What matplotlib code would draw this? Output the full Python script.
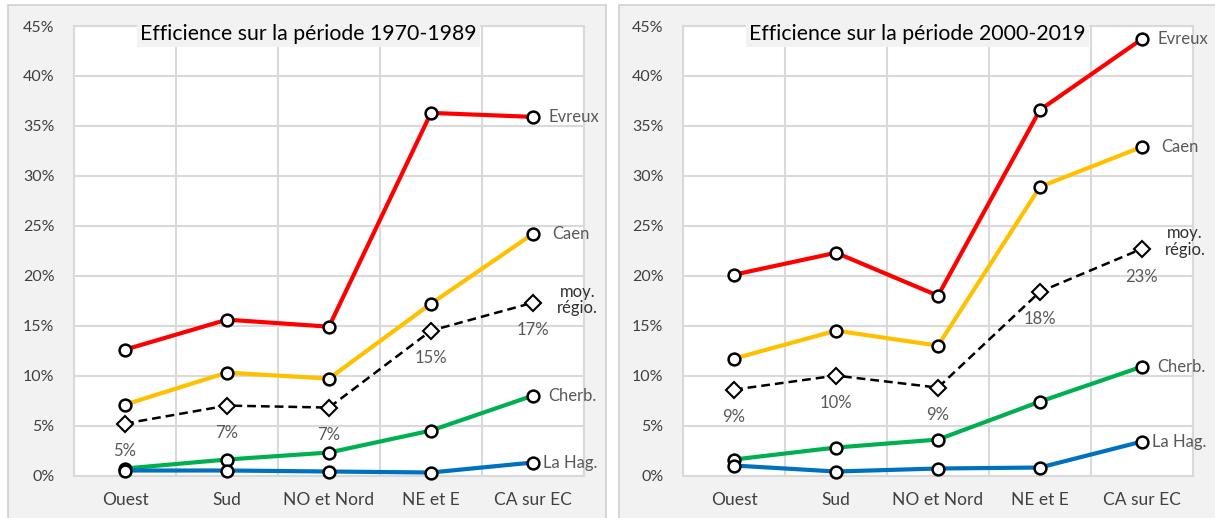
import matplotlib
matplotlib.use("Agg")
import matplotlib.pyplot as plt
from matplotlib.patches import Rectangle

plt.rcParams['font.family'] = ['Lato', 'DejaVu Sans']

categories = ["Ouest", "Sud", "NO et Nord", "NE et E", "CA sur EC"]
yticks = [0, 5, 10, 15, 20, 25, 30, 35, 40, 45]

# 1970-1989
evreux_70 = [12.6, 15.6, 14.9, 36.3, 35.9]
caen_70 = [7.1, 10.3, 9.7, 17.2, 24.2]
moy_70 = [5.2, 7.0, 6.8, 14.5, 17.3]
cherb_70 = [0.7, 1.6, 2.3, 4.5, 8.0]
lahag_70 = [0.5, 0.5, 0.4, 0.3, 1.3]
moy_labels_70 = ["5%", "7%", "7%", "15%", "17%"]

# 2000-2019
evreux_00 = [20.1, 22.3, 18.0, 36.6, 43.7]
caen_00 = [11.7, 14.5, 13.0, 28.9, 32.9]
moy_00 = [8.6, 10.0, 8.8, 18.4, 22.7]
cherb_00 = [1.6, 2.8, 3.6, 7.4, 10.9]
lahag_00 = [1.0, 0.4, 0.7, 0.8, 3.4]
moy_labels_00 = ["9%", "10%", "9%", "18%", "23%"]

GREY_TXT = "#595959"
GRID = "#d9d9d9"


def draw_panel(ax, title, evreux, caen, moy, cherb, lahag, moy_labels, moy_off):
    x = list(range(len(categories)))
    ax.set_facecolor("white")
    ax.set_xlim(-0.5, len(categories) - 0.5)
    ax.set_ylim(0, 45)
    ax.set_yticks(yticks)
    ax.set_yticklabels([f"{v}%" for v in yticks])
    ax.set_xticks(x)
    ax.set_xticklabels(categories)
    ax.set_xticks([i - 0.5 for i in range(len(categories) + 1)], minor=True)
    ax.grid(True, which="minor", axis="x", color=GRID, lw=1.5)
    ax.grid(True, which="major", axis="y", color=GRID, lw=1.5)
    ax.set_axisbelow(True)
    ax.tick_params(which="both", length=0)
    ax.tick_params(axis="y", pad=14, labelsize=11.5, labelcolor="#404040")
    ax.tick_params(axis="x", pad=12, labelsize=12.5, labelcolor="#404040")
    for s in ax.spines.values():
        s.set_color(GRID)
        s.set_linewidth(1.5)

    mk = dict(marker="o", ms=8.5, mfc="white", mec="black", mew=1.8)
    series = [("Evreux", evreux, "#ff0000", (11, 0)),
              ("Caen", caen, "#ffc000", (14, 0)),
              ("Cherb.", cherb, "#00b050", (11, 0)),
              ("La Hag.", lahag, "#0070c0", (7, 0))]
    for name, vals, col, off in series:
        ax.plot(x, vals, color=col, lw=3.0, zorder=3, clip_on=False, **mk)
        ax.annotate(name, (x[-1], vals[-1]), xytext=off, textcoords="offset points",
                    ha="left", va="center", fontsize=12, color=GREY_TXT,
                    annotation_clip=False)

    ax.plot(x, moy, color="black", lw=1.8, ls=(0, (3.5, 2)), zorder=4, marker="D",
            ms=8.5, mfc="white", mec="black", mew=1.5, clip_on=False)
    for xi, v, lab in zip(x, moy, moy_labels):
        ax.annotate(lab, (xi, v), xytext=(0, -20), textcoords="offset points",
                    ha="center", va="center", fontsize=12, color=GREY_TXT)
    ax.annotate("moy.\nrégio.", (x[-1], moy[-1]), xytext=moy_off,
                textcoords="offset points", ha="center", va="center",
                fontsize=12, color="#303030", linespacing=1.05,
                annotation_clip=False)

    ax.text(0.46, 0.982, title, transform=ax.transAxes, ha="center", va="center",
            fontsize=15.3, color="black", zorder=6,
            bbox=dict(boxstyle="square,pad=0.15", fc="#f2f2f2", ec="none"))


fig = plt.figure(figsize=(12.15, 5.18), dpi=100)
W, H = 1215, 518
for x0, x1 in [(8, 606), (619, 1225)]:
    fig.patches.append(Rectangle((x0 / W, -0.05), (x1 - x0) / W, (518 - 5) / H + 0.05,
                                 transform=fig.transFigure, fc="#f2f2f2",
                                 ec="#d0d0d0", lw=1.2, zorder=-10))

ax1 = fig.add_axes([74 / W, (518 - 475.5) / H, 510 / W, 449.5 / H])
ax2 = fig.add_axes([683 / W, (518 - 475.5) / H, 510 / W, 449.5 / H])

draw_panel(ax1, "Efficience sur la période 1970-1989", evreux_70, caen_70,
           moy_70, cherb_70, lahag_70, moy_labels_70, (32, 2))
draw_panel(ax2, "Efficience sur la période 2000-2019", evreux_00, caen_00,
           moy_00, cherb_00, lahag_00, moy_labels_00, (31, 5))

fig.savefig("out.png", dpi=100)
